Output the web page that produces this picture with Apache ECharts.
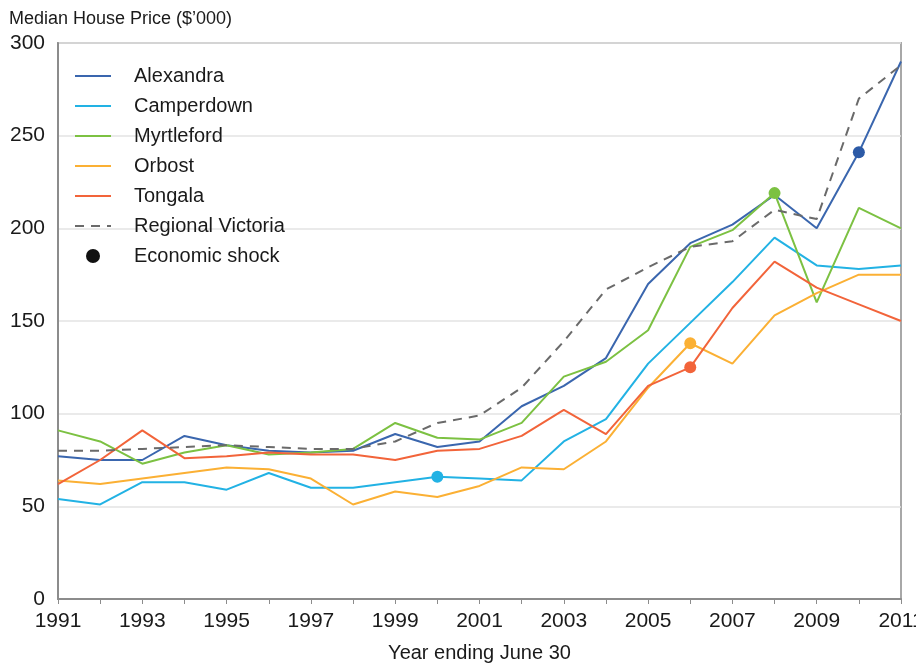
<!DOCTYPE html>
<html>
<head>
<meta charset="utf-8">
<script src="https://cdn.jsdelivr.net/npm/echarts@6/dist/echarts.min.js"></script>
<style>
  html, body { margin: 0; padding: 0; background: #fff; }
  #main { width: 916px; height: 664px; }
</style>
</head>
<body>
<div id="main"></div>
<script>
// years along the x axis
var years = ['1991', '1992', '1993', '1994', '1995', '1996', '1997', '1998', '1999', '2000',
	'2001', '2002', '2003', '2004', '2005', '2006', '2007', '2008', '2009', '2010', '2011'];

// median house price, $'000
var alexandra = [77, 75, 75, 88, 83, 80, 79, 80, 89, 82, 85, 104, 115, 130, 170, 192, 202, 218, 200, 241, 290];
var camperdown = [54, 51, 63, 63, 59, 68, 60, 60, 63, 66, 65, 64, 85, 97, 127, 149, 171, 195, 180, 178, 180];
var myrtleford = [91, 85, 73, 79, 83, 78, 79, 81, 95, 87, 86, 95, 120, 128, 145, 190, 199, 219, 160, 211, 200];
var orbost = [64, 62, 65, 68, 71, 70, 65, 51, 58, 55, 61, 71, 70, 85, 114, 138, 127, 153, 165, 175, 175];
var tongala = [62, 75, 91, 76, 77, 79, 78, 78, 75, 80, 81, 88, 102, 89, 115, 125, 157, 182, 168, 159, 150];
var regional = [80, 80, 81, 82, 83, 82, 81, 81, 85, 95, 99, 114, 139, 167, 179, 190, 193, 210, 205, 270, 288];

// economic shock markers: year index on each town's line
var shockCamperdown = 9;
var shockOrbost = 15;
var shockTongala = 15;
var shockMyrtleford = 17;
var shockAlexandra = 19;

var font = "'Liberation Sans', Arial, sans-serif";

var colAlex = '#3a66ae';
var colCamp = '#22b2e4';
var colMyrt = '#7cc142';
var colOrb = '#fbb034';
var colTong = '#f2643a';

var chart = echarts.init(document.getElementById('main'));

function lineSeries(name, data, color) {
	return {
		name: name,
		type: 'line',
		data: data,
		symbol: 'none',
		lineStyle: { color: color, width: 2 },
		itemStyle: { color: color },
		z: 3
	};
}

// legend entry for a line: just the stroke, no marker
function lineLegend(name) {
	return { name: name, itemStyle: { opacity: 0 } };
}

var option = {
	backgroundColor: '#fff',
	animation: false,
	textStyle: { fontFamily: font },
	title: {
		text: 'Median House Price ($\u2019000)',
		left: 4,
		top: 5,
		textStyle: { fontFamily: font, fontSize: 18, fontWeight: 'normal', color: '#1a1a1a' }
	},
	grid: {
		left: 58,
		right: 15,
		top: 43,
		bottom: 65,
		outerBoundsMode: 'none',
		containLabel: false,
		show: true,
		borderColor: '#a8a8a8',
		borderWidth: 2
	},
	legend: {
		orient: 'vertical',
		left: 69,
		top: 61,
		itemWidth: 36,
		itemHeight: 14,
		itemGap: 10,
		textStyle: { fontFamily: font, fontSize: 20, color: '#1a1a1a', padding: [0, 0, 0, 18] },
		data: [
			lineLegend('Alexandra'), lineLegend('Camperdown'), lineLegend('Myrtleford'),
			lineLegend('Orbost'), lineLegend('Tongala'), lineLegend('Regional Victoria'),
			{ name: 'Economic shock', icon: 'circle', itemStyle: { color: '#111', opacity: 1 } }
		]
	},
	xAxis: {
		type: 'category',
		data: years,
		boundaryGap: false,
		name: 'Year ending June 30',
		nameLocation: 'middle',
		nameGap: 44,
		nameTextStyle: { fontFamily: font, fontSize: 20, color: '#1a1a1a' },
		axisLine: { lineStyle: { color: '#8c8c8c', width: 2 } },
		axisTick: { show: true, interval: 0, length: 5, lineStyle: { color: '#8c8c8c' } },
		axisLabel: { interval: 1, fontSize: 21, color: '#1a1a1a', margin: 12, fontFamily: font },
		splitLine: { show: false }
	},
	yAxis: {
		type: 'value',
		min: 0,
		max: 300,
		interval: 50,
		axisLine: { show: true, lineStyle: { color: '#8c8c8c', width: 2 } },
		axisTick: { show: false },
		axisLabel: { fontSize: 21, color: '#1a1a1a', margin: 13, fontFamily: font },
		splitLine: { lineStyle: { color: '#e3e3e3', width: 1.5 } }
	},
	series: [
		lineSeries('Alexandra', alexandra, colAlex),
		lineSeries('Camperdown', camperdown, colCamp),
		lineSeries('Myrtleford', myrtleford, colMyrt),
		lineSeries('Orbost', orbost, colOrb),
		lineSeries('Tongala', tongala, colTong),
		{
			name: 'Regional Victoria',
			type: 'line',
			data: regional,
			symbol: 'none',
			lineStyle: { color: '#6a6a6a', width: 2, type: [9, 7] },
			itemStyle: { color: '#6a6a6a' },
			z: 4
		},
		{
			name: 'Economic shock',
			type: 'scatter',
			symbol: 'circle',
			symbolSize: 12,
			itemStyle: { color: '#111', opacity: 1 },
			z: 5,
			data: [
				{ value: [shockCamperdown, camperdown[shockCamperdown]], itemStyle: { color: colCamp } },
				{ value: [shockOrbost, orbost[shockOrbost]], itemStyle: { color: colOrb } },
				{ value: [shockTongala, tongala[shockTongala]], itemStyle: { color: colTong } },
				{ value: [shockMyrtleford, myrtleford[shockMyrtleford]], itemStyle: { color: colMyrt } },
				{ value: [shockAlexandra, alexandra[shockAlexandra]], itemStyle: { color: '#2c5aa6' } }
			]
		}
	]
};

chart.setOption(option);
</script>
</body>
</html>
